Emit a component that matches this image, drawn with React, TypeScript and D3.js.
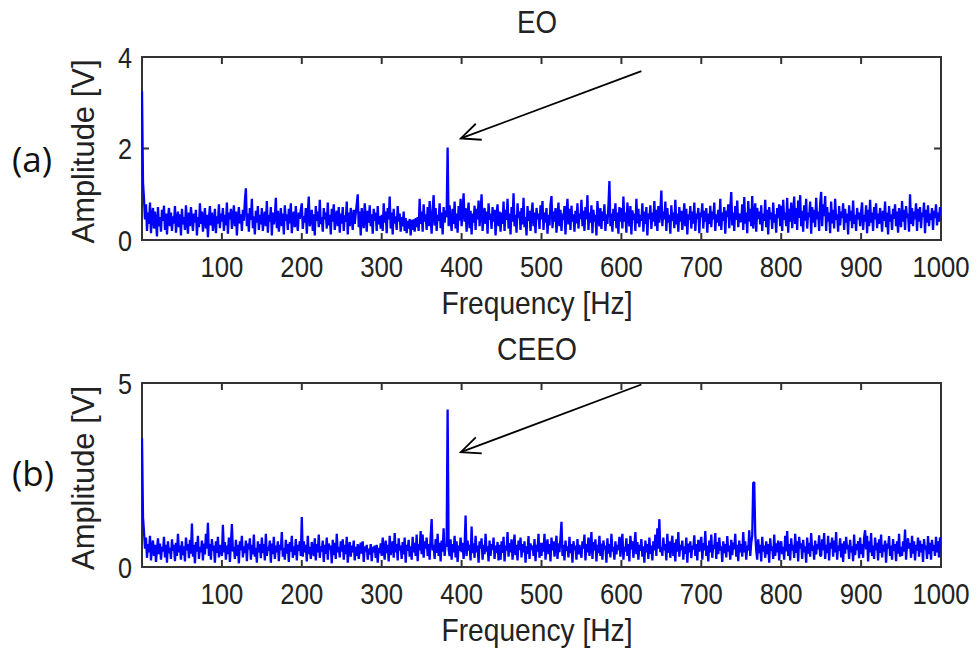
import React from "react";
import * as d3 from "d3";

// ---------- data ----------
const FREQ_STEP = 1.25; // Hz between spectrum bins (801 bins, 0..1000 Hz)
const xTickValues = [100, 200, 300, 400, 500, 600, 700, 800, 900, 1000];
const eoYTicks = [0, 2, 4];
const ceeoYTicks = [0, 5];

// EO spectrum amplitude [V]
const eoAmplitude = [
  3.25, 1.25, 0.9, 0.45, 0.78, 0.2, 0.6, 0.35, 0.82, 0.15,
  0.55, 0.7, 0.25, 0.62, 0.4, 0.08, 0.72, 0.3, 0.5, 0.18,
  0.66, 0.42, 0.75, 0.22, 0.58, 0.12, 0.48, 0.7, 0.3, 0.6,
  0.2, 0.52, 0.36, 0.74, 0.16, 0.45, 0.62, 0.28, 0.56, 0.1,
  0.68, 0.34, 0.5, 0.22, 0.76, 0.4, 0.14, 0.6, 0.3, 0.72,
  0.45, 0.2, 0.58, 0.38, 0.66, 0.1, 0.5, 0.28, 0.8, 0.35,
  0.62, 0.18, 0.44, 0.7, 0.25, 0.55, 0.06, 0.48, 0.74, 0.32,
  0.6, 0.2, 0.42, 0.68, 0.15, 0.52, 0.36, 0.78, 0.26, 0.58,
  0.4, 0.7, 0.2, 0.55, 0.32, 0.82, 0.14, 0.6, 0.45, 0.68,
  0.24, 0.5, 0.76, 0.3, 0.62, 0.1, 0.48, 0.72, 0.36, 0.56,
  0.2, 0.66, 0.42, 0.85, 1.13, 0.3, 0.58, 0.18, 0.7, 0.44,
  0.9, 0.26, 0.52, 0.12, 0.64, 0.38, 0.74, 0.22, 0.55, 0.34,
  0.7, 0.2, 0.48, 0.62, 0.3, 0.85, 0.16, 0.55, 0.4, 0.72,
  0.1, 0.6, 0.34, 0.5, 0.92, 0.26, 0.64, 0.18, 0.45, 0.7,
  0.3, 0.58, 0.12, 0.76, 0.42, 0.56, 0.22, 0.68, 0.36, 0.8,
  0.15, 0.5, 0.62, 0.28, 0.74, 0.4, 0.2, 0.6, 0.46, 0.66,
  0.8, 0.24, 0.52, 0.38, 0.7, 0.14, 0.6, 0.95, 0.3, 0.48,
  0.66, 0.2, 0.56, 0.1, 0.74, 0.42, 0.62, 0.28, 0.88, 0.35,
  0.5, 0.18, 0.7, 0.45, 0.6, 0.25, 0.82, 0.32, 0.55, 0.12,
  0.68, 0.4, 0.78, 0.22, 0.5, 0.64, 0.3, 0.72, 0.16, 0.58,
  0.36, 0.72, 0.2, 0.54, 0.4, 0.84, 0.12, 0.6, 0.3, 0.7,
  0.46, 0.22, 0.66, 0.35, 0.58, 0.78, 1.0, 0.28, 0.62, 0.1,
  0.7, 0.44, 0.26, 0.8, 0.5, 0.18, 0.64, 0.38, 0.76, 0.3,
  0.56, 0.14, 0.68, 0.42, 0.6, 0.2, 0.74, 0.34, 0.52, 0.25,
  0.55, 0.2, 0.8, 0.38, 0.62, 0.15, 0.7, 0.45, 0.95, 0.25,
  0.6, 0.12, 0.68, 0.36, 0.52, 0.22, 0.74, 0.4, 0.58, 0.18,
  0.5, 0.3, 0.62, 0.2, 0.48, 0.15, 0.42, 0.25, 0.46, 0.1,
  0.44, 0.22, 0.45, 0.18, 0.48, 0.28, 0.5, 0.2, 0.9, 0.35,
  0.62, 0.18, 0.78, 0.4, 0.56, 0.22, 0.72, 0.3, 0.85, 0.45,
  0.14, 0.66, 0.98, 0.32, 0.7, 0.2, 0.55, 0.42, 0.8, 0.26,
  0.6, 0.12, 0.72, 0.38, 0.64, 0.5, 2.02, 0.3, 0.76, 0.45,
  0.2, 0.68, 0.35, 0.84, 0.25, 0.58, 0.16, 0.74, 0.42, 0.9,
  0.3, 0.62, 1.02, 0.4, 0.7, 0.18, 0.55, 0.82, 0.26, 0.64,
  0.12, 0.58, 0.38, 0.75, 0.22, 0.68, 0.45, 0.86, 0.3, 0.6,
  1.0, 0.2, 0.52, 0.7, 0.35, 0.62, 0.14, 0.8, 0.44, 0.58,
  0.24, 0.72, 0.4, 0.66, 0.1, 0.55, 0.78, 0.3, 0.62, 0.18,
  0.6, 0.35, 0.84, 0.2, 0.66, 0.44, 0.9, 0.25, 0.58, 0.12,
  0.72, 0.4, 1.02, 0.3, 0.55, 0.16, 0.8, 0.48, 0.62, 0.22,
  0.7, 0.34, 0.92, 0.28, 0.5, 0.1, 0.74, 0.42, 0.64, 0.2,
  0.56, 0.82, 0.3, 0.6, 0.15, 0.7, 0.45, 0.58, 0.24, 0.76,
  0.45, 0.85, 0.22, 0.6, 0.38, 0.7, 0.14, 0.55, 0.32, 0.78,
  0.96, 0.26, 0.62, 0.4, 0.7, 0.16, 0.52, 0.82, 0.3, 0.66,
  0.2, 0.58, 0.44, 0.74, 0.12, 0.6, 0.9, 0.34, 0.68, 0.22,
  0.75, 0.4, 0.56, 0.18, 0.64, 0.36, 0.8, 0.25, 0.58, 0.46,
  0.88, 0.3, 0.64, 0.2, 0.72, 0.45, 0.98, 0.22, 0.6, 0.38,
  0.76, 0.15, 0.66, 0.4, 0.55, 0.1, 0.85, 0.5, 0.3, 0.7,
  0.24, 0.62, 0.42, 0.78, 0.2, 0.56, 0.35, 0.74, 1.29, 0.3,
  0.58, 0.18, 0.68, 0.42, 0.8, 0.26, 0.6, 0.14, 0.72, 0.4,
  0.7, 0.25, 0.95, 0.4, 0.6, 0.16, 0.82, 0.5, 0.3, 0.74,
  0.12, 0.65, 0.44, 0.58, 0.2, 0.9, 0.36, 0.68, 0.28, 0.55,
  0.42, 0.8, 0.18, 0.62, 0.35, 0.72, 0.1, 0.58, 0.46, 0.76,
  0.24, 0.6, 0.4, 0.85, 0.3, 0.66, 0.2, 0.74, 0.38, 0.62,
  1.08, 0.3, 0.62, 0.45, 0.84, 0.2, 0.7, 0.38, 0.55, 0.14,
  0.76, 0.42, 0.6, 0.26, 0.88, 0.34, 0.58, 0.18, 0.72, 0.4,
  0.64, 0.22, 0.5, 0.8, 0.3, 0.68, 0.12, 0.56, 0.44, 0.74,
  0.25, 0.62, 0.36, 0.82, 0.2, 0.58, 0.46, 0.7, 0.15, 0.6,
  0.5, 0.8, 0.25, 0.64, 0.4, 0.7, 0.16, 0.58, 0.35, 0.75,
  0.28, 0.62, 0.45, 0.82, 0.2, 0.56, 0.38, 0.66, 0.3, 0.9,
  0.22, 0.6, 0.42, 0.72, 0.14, 0.64, 0.5, 0.78, 0.26, 0.7,
  1.05, 0.32, 0.6, 0.2, 0.74, 0.44, 0.86, 0.28, 0.58, 0.4,
  0.42, 0.78, 0.22, 0.94, 0.36, 0.6, 0.15, 0.85, 0.4, 0.68,
  0.3, 0.96, 0.25, 0.55, 0.8, 0.18, 0.7, 0.46, 0.62, 0.34,
  0.76, 0.2, 0.58, 0.42, 0.88, 0.28, 0.66, 0.12, 0.72, 0.45,
  0.6, 0.24, 0.82, 0.38, 0.56, 0.16, 0.7, 0.48, 0.78, 0.3,
  0.75, 0.2, 0.88, 0.44, 0.6, 0.3, 0.92, 0.16, 0.68, 0.4,
  0.82, 0.26, 0.58, 0.95, 0.35, 0.7, 0.22, 0.86, 0.48, 0.98,
  0.3, 0.64, 0.18, 0.76, 0.42, 0.9, 0.25, 0.6, 0.5, 0.84,
  0.14, 0.72, 0.38, 0.66, 0.28, 0.92, 0.45, 0.62, 0.2, 0.8,
  1.05, 0.3, 0.78, 0.52, 0.96, 0.2, 0.72, 0.4, 0.6, 0.15,
  0.84, 0.36, 0.66, 0.25, 0.9, 0.44, 0.56, 0.18, 0.74, 0.32,
  0.62, 0.48, 0.8, 0.22, 0.68, 0.38, 0.58, 0.12, 0.76, 0.42,
  0.64, 0.26, 0.86, 0.35, 0.55, 0.2, 0.7, 0.45, 0.6, 0.3,
  0.62, 0.82, 0.22, 0.55, 0.4, 0.76, 0.15, 0.66, 0.3, 0.88,
  0.38, 0.6, 0.2, 0.72, 0.45, 0.8, 0.26, 0.58, 0.35, 0.7,
  0.5, 0.18, 0.64, 0.42, 0.84, 0.28, 0.6, 0.12, 0.74, 0.4,
  0.56, 0.22, 0.68, 0.46, 0.78, 0.3, 0.62, 0.16, 0.7, 0.44,
  0.28, 0.85, 0.4, 0.66, 0.22, 0.74, 0.48, 0.58, 0.18, 1.0,
  0.35, 0.7, 0.3, 0.62, 0.45, 0.8, 0.2, 0.68, 0.4, 0.72,
  0.26, 0.6, 0.5, 0.82, 0.15, 0.66, 0.38, 0.76, 0.3, 0.58,
  0.44, 0.7, 0.22, 0.64, 0.48, 0.78, 0.32, 0.6, 0.4, 0.72,
  0.55,
];

// CEEO spectrum amplitude [V]
const ceeoAmplitude = [
  3.5, 1.35, 0.95, 0.5, 0.8, 0.25, 0.62, 0.4, 0.85, 0.18,
  0.56, 0.72, 0.3, 0.6, 0.14, 0.48, 0.78, 0.35, 0.64, 0.2,
  0.55, 0.42, 0.82, 0.26, 0.6, 0.12, 0.7, 0.38, 0.52, 0.22,
  0.75, 0.44, 0.6, 0.16, 0.66, 0.3, 0.9, 0.4, 0.58, 0.2,
  0.7, 0.32, 0.56, 0.15, 0.8, 0.45, 0.62, 0.24, 0.74, 0.36,
  1.18, 0.28, 0.6, 0.1, 0.68, 0.42, 0.85, 0.22, 0.55, 0.4,
  0.72, 0.18, 0.64, 0.34, 0.9, 0.5, 1.2, 0.3, 0.62, 0.2,
  0.76, 0.44, 0.58, 0.12, 0.7, 0.38, 0.82, 0.26, 0.6, 0.46,
  0.3, 1.15, 0.4, 0.68, 0.2, 0.58, 0.35, 0.8, 0.14, 0.62,
  1.17, 0.42, 0.55, 0.22, 0.74, 0.3, 0.6, 0.1, 0.7, 0.45,
  0.85, 0.26, 0.56, 0.38, 0.72, 0.16, 0.64, 0.48, 0.78, 0.2,
  0.6, 0.34, 0.88, 0.28, 0.52, 0.12, 0.7, 0.4, 0.62, 0.24,
  0.8, 0.38, 0.62, 0.18, 0.9, 0.3, 0.55, 0.44, 0.72, 0.12,
  0.64, 0.35, 0.82, 0.22, 0.58, 0.4, 0.7, 0.16, 0.6, 0.46,
  0.95, 0.28, 0.52, 0.2, 0.74, 0.36, 0.62, 0.14, 0.68, 0.42,
  0.85, 0.25, 0.56, 0.32, 0.76, 0.18, 0.6, 0.44, 0.7, 0.3,
  1.36, 0.28, 0.7, 0.4, 0.6, 0.15, 0.85, 0.35, 0.55, 0.22,
  0.68, 0.45, 0.3, 0.78, 0.18, 0.62, 0.4, 0.88, 0.25, 0.56,
  0.42, 0.72, 0.14, 0.6, 0.36, 0.8, 0.2, 0.64, 0.48, 0.58,
  0.1, 0.74, 0.32, 0.66, 0.22, 0.9, 0.4, 0.55, 0.26, 0.7,
  0.42, 0.75, 0.2, 0.6, 0.35, 0.82, 0.12, 0.5, 0.68, 0.28,
  0.58, 0.4, 0.72, 0.18, 0.55, 0.3, 0.62, 0.22, 0.48, 0.66,
  0.36, 0.7, 0.14, 0.56, 0.42, 0.6, 0.2, 0.5, 0.34, 0.62,
  0.16, 0.55, 0.4, 0.58, 0.25, 0.6, 0.12, 0.52, 0.38, 0.64,
  0.3, 0.8, 0.45, 0.2, 0.72, 0.38, 0.6, 0.15, 0.85, 0.32,
  0.55, 0.7, 0.25, 0.92, 0.4, 0.62, 0.18, 0.78, 0.45, 0.58,
  0.22, 0.68, 0.34, 0.8, 0.12, 0.6, 0.44, 0.74, 0.28, 0.56,
  0.2, 0.82, 0.4, 0.66, 0.3, 0.88, 0.16, 0.62, 0.45, 0.98,
  0.35, 0.88, 0.25, 0.7, 0.5, 0.8, 0.3, 0.62, 0.2, 0.82,
  1.3, 0.45, 0.6, 0.22, 0.76, 0.38, 0.9, 0.3, 0.66, 0.15,
  0.72, 0.42, 1.05, 0.3, 0.62, 0.55, 4.28, 0.48, 0.3, 0.75,
  0.2, 0.62, 0.4, 0.85, 0.26, 0.7, 0.14, 0.58, 0.44, 0.8,
  0.4, 0.66, 0.22, 0.55, 1.4, 0.3, 0.72, 0.45, 0.6, 0.18,
  1.1, 0.38, 0.64, 0.25, 0.85, 0.4, 0.58, 0.12, 0.7, 0.5,
  0.78, 0.2, 0.6, 0.35, 0.9, 0.42, 0.56, 0.15, 0.72, 0.3,
  0.62, 0.46, 0.8, 0.22, 0.58, 0.38, 0.68, 0.18, 0.6, 0.2,
  0.7, 0.38, 0.82, 0.15, 0.58, 0.45, 0.95, 0.28, 0.65, 0.4,
  0.75, 0.2, 0.55, 0.88, 0.32, 0.6, 0.18, 0.72, 0.46, 0.8,
  0.26, 0.62, 0.4, 0.7, 0.12, 0.56, 0.36, 0.84, 0.22, 0.64,
  0.48, 0.58, 0.3, 0.76, 0.16, 0.6, 0.42, 0.9, 0.25, 0.66,
  0.3, 0.66, 0.42, 0.9, 0.2, 0.58, 0.75, 0.35, 0.62, 0.15,
  0.8, 0.45, 0.7, 0.28, 0.55, 0.85, 0.22, 0.64, 0.4, 0.78,
  1.23, 0.3, 0.6, 0.18, 0.72, 0.44, 0.56, 0.26, 0.82, 0.38,
  0.62, 0.12, 0.7, 0.46, 0.58, 0.2, 0.76, 0.34, 0.6, 0.42,
  0.25, 0.7, 0.5, 0.88, 0.18, 0.62, 0.4, 0.8, 0.3, 0.56,
  0.95, 0.22, 0.68, 0.45, 0.75, 0.15, 0.6, 0.38, 0.85, 0.3,
  0.64, 0.2, 0.72, 0.48, 0.58, 0.12, 0.78, 0.36, 0.62, 0.26,
  0.9, 0.42, 0.55, 0.2, 0.7, 0.34, 0.6, 0.46, 0.82, 0.28,
  0.66, 0.9, 0.2, 0.55, 0.42, 0.78, 0.3, 0.62, 0.15, 0.85,
  0.48, 0.7, 0.25, 0.58, 0.95, 0.35, 0.68, 0.2, 0.6, 0.44,
  0.76, 0.28, 0.56, 0.12, 0.72, 0.4, 0.62, 0.22, 0.8, 0.36,
  0.58, 0.18, 0.7, 0.45, 0.88, 0.3, 1.05, 0.5, 1.3, 0.4,
  0.55, 0.3, 0.8, 0.45, 0.62, 0.18, 0.9, 0.38, 0.7, 0.25,
  0.58, 0.85, 0.3, 0.66, 0.15, 0.75, 0.42, 0.95, 0.28, 0.6,
  0.46, 0.72, 0.2, 0.56, 0.36, 0.8, 0.12, 0.64, 0.4, 0.7,
  0.24, 0.58, 0.48, 0.86, 0.3, 0.62, 0.18, 0.74, 0.42, 0.6,
  0.82, 0.2, 0.65, 0.45, 0.98, 0.3, 0.58, 0.15, 0.72, 0.4,
  0.88, 0.25, 0.6, 0.5, 0.92, 0.22, 0.68, 0.35, 0.8, 0.45,
  0.56, 0.14, 0.7, 0.38, 0.62, 0.26, 0.84, 0.42, 0.58, 0.2,
  0.74, 0.32, 0.66, 0.48, 0.9, 0.28, 0.6, 0.16, 0.72, 0.4,
  0.62, 0.28, 0.95, 0.4, 0.7, 0.2, 0.58, 0.45, 1.0, 0.3,
  0.66, 0.85, 2.28, 2.31, 0.9, 0.45, 0.2, 0.75, 0.38, 0.6,
  0.15, 0.82, 0.42, 0.58, 0.25, 0.7, 0.35, 0.62, 0.12, 0.78,
  0.44, 0.56, 0.22, 0.88, 0.3, 0.64, 0.4, 0.72, 0.18, 0.6,
  0.7, 0.35, 0.55, 0.2, 0.85, 0.42, 0.98, 0.3, 0.62, 0.18,
  0.78, 0.45, 0.6, 0.25, 0.9, 0.38, 0.7, 0.15, 0.82, 0.5,
  0.64, 0.22, 0.74, 0.4, 0.56, 0.12, 0.8, 0.36, 0.66, 0.28,
  0.92, 0.44, 0.58, 0.2, 0.72, 0.34, 0.62, 0.48, 0.86, 0.3,
  0.3, 0.75, 0.45, 0.92, 0.22, 0.6, 0.38, 0.85, 0.18, 0.66,
  0.5, 0.8, 0.28, 0.72, 0.4, 0.95, 0.2, 0.58, 0.44, 0.78,
  0.26, 0.64, 0.14, 0.7, 0.36, 0.82, 0.48, 0.6, 0.22, 0.74,
  0.4, 0.56, 0.16, 0.88, 0.32, 0.62, 0.46, 0.7, 0.24, 0.8,
  0.35, 0.62, 0.25, 0.8, 1.0, 0.48, 0.85, 0.15, 0.7, 0.4,
  0.92, 0.3, 0.58, 0.22, 0.8, 0.45, 0.66, 0.18, 0.75, 0.38,
  0.88, 0.26, 0.6, 0.42, 0.72, 0.12, 0.64, 0.5, 0.84, 0.3,
  0.58, 0.2, 0.76, 0.44, 0.62, 0.16, 0.7, 0.36, 0.9, 0.28,
  0.55, 0.3, 0.7, 0.42, 1.02, 0.2, 0.6, 0.78, 0.5, 0.65,
  0.25, 0.85, 0.36, 0.7, 0.18, 0.6, 0.45, 0.8, 0.28, 0.72,
  0.4, 0.62, 0.14, 0.76, 0.48, 0.58, 0.22, 0.84, 0.35, 0.66,
  0.2, 0.74, 0.44, 0.6, 0.3, 0.82, 0.4, 0.7, 0.26, 0.8,
  0.75,
];

// annotation arrows in data coordinates: [fromHz, fromV, toHz, toV]
const eoArrow = [625, 3.69, 399, 2.22];
const ceeoArrow = [625, 4.96, 399, 3.12];

const titles = ["EO", "CEEO"];
const panelLabels = ["(a)", "(b)"];
const xLabel = "Frequency [Hz]";
const yLabel = "Amplitude [V]";

// ---------- layout ----------
const W = 976;
const H = 654;
const FONT = "'Liberation Sans', Arial, Helvetica, sans-serif";
const TEXT = "#222";

const panels = [
  { title: titles[0], tag: panelLabels[0], values: eoAmplitude, yTicks: eoYTicks, yMax: 4, top: 57, bottom: 240, arrow: eoArrow, titleY: 33, xlabY: 314, tagY: 172 },
  { title: titles[1], tag: panelLabels[1], values: ceeoAmplitude, yTicks: ceeoYTicks, yMax: 5, top: 383, bottom: 567, arrow: ceeoArrow, titleY: 360, xlabY: 641, tagY: 486 },
];

const X0 = 142;
const X1 = 941;

function Panel({ p, idx }: { p: any; idx: number }) {
  const x = d3.scaleLinear().domain([0, 1000]).range([X0, X1]);
  const y = d3.scaleLinear().domain([0, p.yMax]).range([p.bottom, p.top]);
  const line = d3
    .line<number>()
    .x((_, i) => x(i * FREQ_STEP))
    .y((d) => y(d));
  const tickLen = 7;
  const [fx, fv, tx, tv] = p.arrow;
  const ax0 = x(fx), ay0 = y(fv), ax1 = x(tx), ay1 = y(tv);
  const ang = Math.atan2(ay0 - ay1, ax0 - ax1);
  const hl = 21;
  const ha = (24 * Math.PI) / 180;
  const h1 = [ax1 + hl * Math.cos(ang - ha), ay1 + hl * Math.sin(ang - ha)];
  const h2 = [ax1 + hl * Math.cos(ang + ha), ay1 + hl * Math.sin(ang + ha)];
  const clipId = `clip${idx}`;
  const yMid = (p.top + p.bottom) / 2;
  return (
    <g>
      <defs>
        <clipPath id={clipId}>
          <rect x={X0 - 1} y={p.top} width={X1 - X0 + 1} height={p.bottom - p.top} />
        </clipPath>
      </defs>
      <rect x={X0} y={p.top} width={X1 - X0} height={p.bottom - p.top} fill="#fff" stroke="#333" strokeWidth={2} />
      {xTickValues.map((t) => (
        <g key={`xt${t}`}>
          <line x1={x(t)} x2={x(t)} y1={p.bottom} y2={p.bottom - tickLen} stroke="#333" strokeWidth={2} />
          <line x1={x(t)} x2={x(t)} y1={p.top} y2={p.top + tickLen} stroke="#333" strokeWidth={2} />
          <text x={x(t)} y={p.bottom + 36.5} textAnchor="middle" fontFamily={FONT} fontSize={30} fill={TEXT}
            textLength={String(t).length * 14.3} lengthAdjust="spacingAndGlyphs">{t}</text>
        </g>
      ))}
      {p.yTicks.map((t: number) => (
        <g key={`yt${t}`}>
          <line x1={X0} x2={X0 + tickLen} y1={y(t)} y2={y(t)} stroke="#333" strokeWidth={2} />
          <line x1={X1} x2={X1 - tickLen} y1={y(t)} y2={y(t)} stroke="#333" strokeWidth={2} />
          <text x={132} y={y(t) + 10.5} textAnchor="end" fontFamily={FONT} fontSize={30} fill={TEXT}
            textLength={String(t).length * 14} lengthAdjust="spacingAndGlyphs">{t}</text>
        </g>
      ))}
      <path d={line(p.values) || ""} fill="none" stroke="#0000ff" strokeWidth={2.3} strokeLinejoin="bevel" clipPath={`url(#${clipId})`} />
      <text x={537} y={p.titleY} textAnchor="middle" fontFamily={FONT} fontSize={32} fill={TEXT}
        textLength={p.title.length === 2 ? 40 : 80} lengthAdjust="spacingAndGlyphs">{p.title}</text>
      <text x={537} y={p.xlabY} textAnchor="middle" fontFamily={FONT} fontSize={32} fill={TEXT}
        textLength={191} lengthAdjust="spacingAndGlyphs">{xLabel}</text>
      <text transform={`translate(93.5,${yMid + 3}) rotate(-90)`} textAnchor="middle" fontFamily={FONT} fontSize={31} fill={TEXT}
        textLength={184} lengthAdjust="spacingAndGlyphs">{yLabel}</text>
      <text x={12} y={p.tagY} fontFamily="'Open Sans', 'DejaVu Sans', sans-serif" fontSize={35} fill="#111">{p.tag}</text>
      <line x1={ax0} y1={ay0} x2={ax1} y2={ay1} stroke="#000" strokeWidth={1.8} />
      <polyline points={`${h1[0]},${h1[1]} ${ax1},${ay1} ${h2[0]},${h2[1]}`} fill="none" stroke="#000" strokeWidth={1.8} />
    </g>
  );
}

export default function App() {
  return (
    <svg width={W} height={H} style={{ display: "block", position: "absolute", left: 0, top: 0, background: "#fff" }}>
      <rect width={W} height={H} fill="#fff" />
      {panels.map((p, i) => (
        <Panel key={i} p={p} idx={i} />
      ))}
    </svg>
  );
}
